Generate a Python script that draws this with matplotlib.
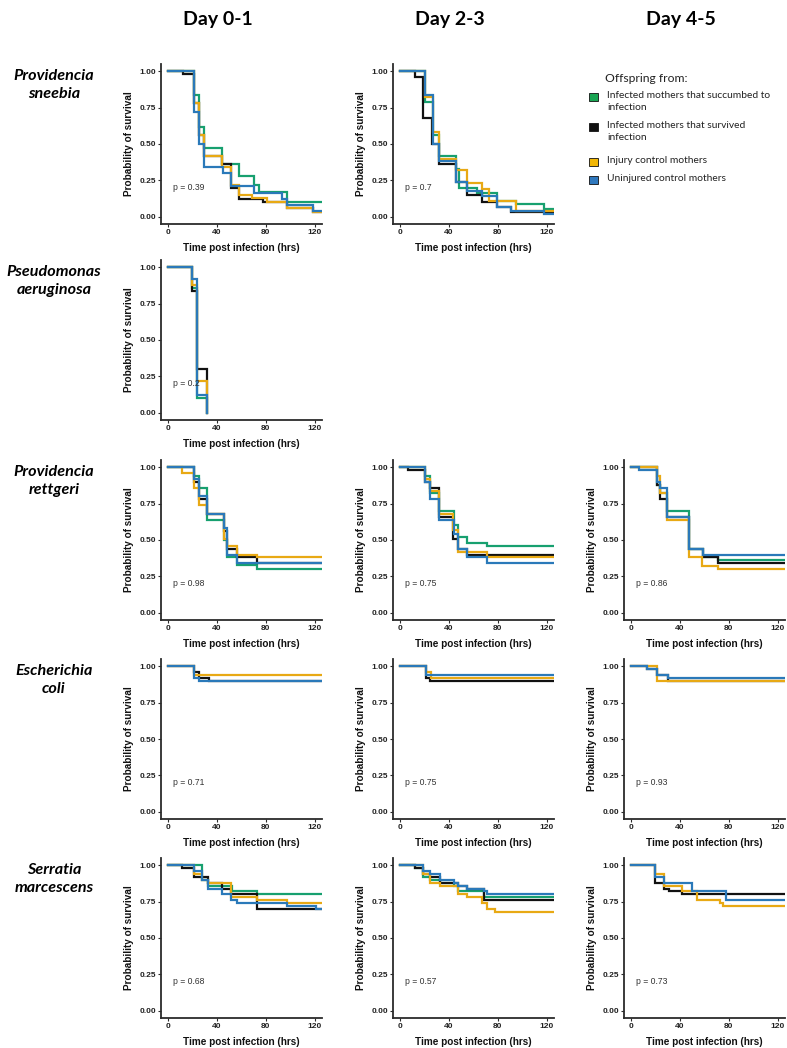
import matplotlib
matplotlib.use("Agg")
import matplotlib.pyplot as plt
from matplotlib.patches import Rectangle

W, H = 787, 1048
fig = plt.figure(figsize=(W / 100, H / 100), dpi=100)

# ---------------- data ----------------
groups = ["Infected mothers that succumbed to\ninfection",
          "Infected mothers that survived\ninfection",
          "Injury control mothers",
          "Uninjured control mothers"]
colors = ["#17a06f", "#111111", "#e8a914", "#2a79b9"]
legend_colors = ["#19a553", "#111111", "#f2b705", "#2f78bd"]

day_titles = ["Day 0-1", "Day 2-3", "Day 4-5"]
species = ["Providencia\nsneebia", "Pseudomonas\naeruginosa", "Providencia\nrettgeri",
           "Escherichia\ncoli", "Serratia\nmarcescens"]

# each series: (times of steps, survival after step); order = succumbed, survived, injury, uninjured
ps_d01 = [([0, 21, 25, 29, 44, 58, 70, 74, 97.5], [1, 0.84, 0.62, 0.47, 0.36, 0.28, 0.22, 0.17, 0.10]),
          ([0, 12, 21, 25, 29, 44, 51, 58, 78, 97.5, 119], [1, 0.98, 0.78, 0.56, 0.42, 0.36, 0.20, 0.12, 0.10, 0.06, 0.03]),
          ([0, 21, 25, 29, 44, 51, 58, 69, 81, 97.5, 119], [1, 0.78, 0.56, 0.42, 0.34, 0.22, 0.15, 0.13, 0.10, 0.06, 0.03]),
          ([0, 21, 25, 29, 45, 51, 70, 93, 97.5, 119], [1, 0.72, 0.50, 0.34, 0.30, 0.21, 0.16, 0.12, 0.08, 0.04])]
ps_d23 = [([0, 20, 27, 31.5, 46, 48.5, 63, 79, 95, 118], [1, 0.79, 0.56, 0.42, 0.33, 0.20, 0.16, 0.11, 0.09, 0.05]),
          ([0, 12, 19, 26, 31.5, 46, 55, 67, 79, 91], [1, 0.96, 0.68, 0.50, 0.36, 0.24, 0.15, 0.10, 0.065, 0.03]),
          ([0, 20, 27, 31.5, 46, 55, 67, 72.6, 95], [1, 0.82, 0.58, 0.40, 0.32, 0.23, 0.19, 0.11, 0.04]),
          ([0, 20, 27, 31.5, 46, 55, 67, 79, 91, 118], [1, 0.84, 0.50, 0.38, 0.24, 0.175, 0.14, 0.07, 0.04, 0.02])]
pa_d01 = [([0, 19.5, 23.5, 32], [1, 0.86, 0.10, 0.0]),
          ([0, 19.5, 23.5, 32], [1, 0.84, 0.30, 0.0]),
          ([0, 19.5, 23.5, 32], [1, 0.88, 0.22, 0.0]),
          ([0, 19.5, 23.5, 32], [1, 0.92, 0.12, 0.0])]
pr_d01 = [([0, 20.8, 24.9, 31.8, 45.5, 48.2, 56.4, 72.9], [1, 0.94, 0.86, 0.64, 0.50, 0.38, 0.325, 0.30]),
          ([0, 20.8, 24.9, 31.8, 45.5, 48.2, 56.4, 72.9], [1, 0.90, 0.78, 0.68, 0.56, 0.44, 0.38, 0.34]),
          ([0, 11, 20.8, 24.9, 31.8, 45.5, 48.2, 56.4, 72.9], [1, 0.96, 0.86, 0.74, 0.68, 0.51, 0.46, 0.40, 0.38]),
          ([0, 20.8, 24.9, 31.8, 45.5, 48.2, 56.4], [1, 0.92, 0.80, 0.68, 0.58, 0.40, 0.34])]
pr_d23 = [([0, 20, 24, 31.5, 44, 47, 55, 71], [1, 0.94, 0.82, 0.70, 0.60, 0.52, 0.48, 0.46]),
          ([0, 6.7, 20, 24, 31.5, 43, 47, 55], [1, 0.98, 0.90, 0.86, 0.66, 0.505, 0.44, 0.40]),
          ([0, 20, 24, 31.5, 43, 47, 71], [1, 0.92, 0.84, 0.68, 0.57, 0.42, 0.38]),
          ([0, 20, 24, 31.5, 44, 47, 55, 71], [1, 0.90, 0.78, 0.64, 0.54, 0.44, 0.38, 0.34])]
pr_d45 = [([0, 21, 23.7, 29.3, 47.2, 59, 71], [1, 0.88, 0.82, 0.70, 0.44, 0.38, 0.36]),
          ([0, 21, 23.7, 29.3, 47.2, 59, 71], [1, 0.88, 0.78, 0.66, 0.44, 0.38, 0.345]),
          ([0, 21, 23.7, 29.3, 47.2, 58, 71], [1, 0.94, 0.82, 0.64, 0.38, 0.32, 0.30]),
          ([0, 6, 21, 23.7, 29.3, 47.2, 59], [1, 0.98, 0.90, 0.86, 0.66, 0.44, 0.40])]
ec_d01 = [None,
          ([0, 21.4, 25.5, 33], [1, 0.96, 0.92, 0.90]),
          ([0, 21.4], [1, 0.94]),
          ([0, 21.4, 25.5], [1, 0.92, 0.90])]
ec_d23 = [None,
          ([0, 21, 24], [1, 0.92, 0.90]),
          ([0, 21, 25.5], [1, 0.96, 0.92]),
          ([0, 21], [1, 0.94])]
ec_d45 = [None,
          ([0, 12.5, 21, 30.4], [1, 0.98, 0.94, 0.90]),
          ([0, 21], [1, 0.90]),
          ([0, 12.5, 21, 30.4], [1, 0.98, 0.94, 0.92])]
sm_d01 = [([0, 27.7, 32.3, 52.3, 72.9], [1, 0.90, 0.86, 0.82, 0.80]),
          ([0, 11, 21.4, 32.3, 44, 51, 72.9], [1, 0.98, 0.92, 0.88, 0.84, 0.80, 0.70]),
          ([0, 21.4, 27.7, 32.3, 51, 72.9, 97.5], [1, 0.94, 0.90, 0.88, 0.78, 0.76, 0.74]),
          ([0, 21.4, 27.7, 32.3, 44, 51, 56.4, 97.5, 121], [1, 0.96, 0.90, 0.84, 0.80, 0.76, 0.74, 0.72, 0.70])]
sm_d23 = [([0, 12, 18.8, 24.2, 32.3, 44.4, 47, 68.5], [1, 0.98, 0.92, 0.90, 0.88, 0.86, 0.82, 0.78]),
          ([0, 12, 18.8, 24.2, 32.3, 47, 55, 68.5], [1, 0.98, 0.94, 0.92, 0.88, 0.86, 0.84, 0.76]),
          ([0, 18.8, 24.2, 32.3, 47, 55, 67, 71, 78], [1, 0.94, 0.88, 0.86, 0.80, 0.78, 0.74, 0.70, 0.68]),
          ([0, 18.8, 24.2, 32.3, 44.4, 47, 55, 68.5, 71], [1, 0.96, 0.94, 0.90, 0.88, 0.86, 0.84, 0.82, 0.80])]
sm_d45 = [None,
          ([0, 19.2, 27.2, 31.2, 41.9], [1, 0.88, 0.84, 0.82, 0.80]),
          ([0, 19.2, 27.2, 41.9, 53.9, 72.5, 75.2], [1, 0.94, 0.86, 0.82, 0.76, 0.74, 0.72]),
          ([0, 19.2, 27.2, 49.9, 77.9], [1, 0.92, 0.88, 0.82, 0.76])]

panels = [(0, 0, ps_d01, "p = 0.39"), (0, 1, ps_d23, "p = 0.7"),
          (1, 0, pa_d01, "p = 0.2"),
          (2, 0, pr_d01, "p = 0.98"), (2, 1, pr_d23, "p = 0.75"), (2, 2, pr_d45, "p = 0.86"),
          (3, 0, ec_d01, "p = 0.71"), (3, 1, ec_d23, "p = 0.75"), (3, 2, ec_d45, "p = 0.93"),
          (4, 0, sm_d01, "p = 0.68"), (4, 1, sm_d23, "p = 0.57"), (4, 2, sm_d45, "p = 0.73")]

# ---------------- layout ----------------
col_left = [161, 393, 624]
row_top = [64, 260, 460, 659, 858]
AX_W, AX_H = 161, 160
XMAX = 126
SANS = ["Liberation Sans", "DejaVu Sans"]
axis_col = "#2b2b2b"


def px_axes(left, top, w, h):
    return fig.add_axes([left / W, 1 - (top + h) / H, w / W, h / H])


for r, c, series, ptxt in panels:
    ax = px_axes(col_left[c], row_top[r], AX_W, AX_H)
    for k, s in enumerate(series):
        if s is None:
            continue
        t, v = list(s[0]), list(s[1])
        if v[-1] > 0:
            t = t + [XMAX]
            v = v + [v[-1]]
        ax.step(t, v, where="post", color=colors[k], lw=1.6, solid_joinstyle="miter")
    ax.set_xlim(-6, XMAX)
    ax.set_ylim(-0.05, 1.05)
    ax.set_xticks([0, 40, 80, 120])
    ax.set_yticks([0, 0.25, 0.5, 0.75, 1.0])
    ax.set_yticklabels(["0.00", "0.25", "0.50", "0.75", "1.00"])
    for sp in ["top", "right"]:
        ax.spines[sp].set_visible(False)
    for sp in ["left", "bottom"]:
        ax.spines[sp].set_color(axis_col)
        ax.spines[sp].set_linewidth(1.3)
    ax.tick_params(axis="both", length=2, width=0.8, color=axis_col, pad=1.5,
                   labelsize=6, labelcolor="#222222")
    for lab in ax.get_xticklabels() + ax.get_yticklabels():
        lab.set_fontweight("bold")
        lab.set_family(SANS)
    ax.set_xlabel("Time post infection (hrs)", fontsize=7.2, fontweight="bold",
                  family=SANS, labelpad=5, color="#111111")
    ax.set_ylabel("Probability of survival", fontsize=7.2, fontweight="bold",
                  family=SANS, labelpad=4, color="#111111")
    ax.text(4, 0.2, ptxt, ha="left", va="center", fontsize=6.2, family=SANS, color="#333333")
    ax.patch.set_alpha(0)

# column headers
for c, title in enumerate(day_titles):
    fig.text((col_left[c] + 57) / W, 1 - 20 / H, title, ha="center", va="center",
             fontsize=14, fontweight="bold", family=["Lato", "DejaVu Sans"])

# row labels
for r, name in enumerate(species):
    fig.text(54 / W, 1 - (row_top[r] + 21) / H, name, ha="center", va="center",
             fontsize=11.6, fontweight="bold", style="italic", family=["Lato", "DejaVu Sans"],
             linespacing=1.35)

# legend
fig.text(605 / W, 1 - 78 / H, "Offspring from:", ha="left", va="center", fontsize=8.7,
         family=["Lato", "DejaVu Sans"], color="#222222")
leg_y = [97, 127, 162, 180]
for k, (lab, yy) in enumerate(zip(groups, leg_y)):
    fig.patches.append(Rectangle(((589) / W, 1 - (yy + 4) / H), 9 / W, 8 / H,
                                 transform=fig.transFigure, facecolor=legend_colors[k],
                                 edgecolor="#111111", lw=0.6))
    fig.text(607 / W, 1 - (yy - 6) / H, lab, ha="left", va="top", fontsize=7.4,
             family=["Lato", "DejaVu Sans"], color="#222222", linespacing=1.4)

fig.savefig("out.png", dpi=100)
